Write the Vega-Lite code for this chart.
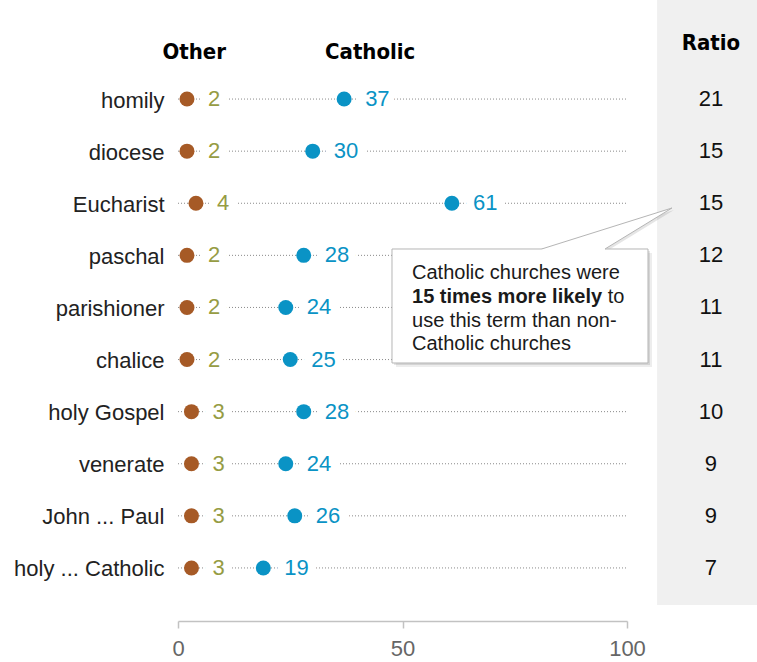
{
  "$schema": "https://vega.github.io/schema/vega-lite/v6.json",
  "width": 449,
  "height": 521,
  "autosize": "none",
  "padding": {"left": 178, "top": 73, "right": 130, "bottom": 68},
  "background": "white",
  "config": {"view": {"stroke": null}, "font": "Liberation Sans"},
  "datasets": {
    "terms": [
      {"term": "homily", "other": 2, "catholic": 37, "ratio": 21},
      {"term": "diocese", "other": 2, "catholic": 30, "ratio": 15},
      {"term": "Eucharist", "other": 4, "catholic": 61, "ratio": 15},
      {"term": "paschal", "other": 2, "catholic": 28, "ratio": 12},
      {"term": "parishioner", "other": 2, "catholic": 24, "ratio": 11},
      {"term": "chalice", "other": 2, "catholic": 25, "ratio": 11},
      {"term": "holy Gospel", "other": 3, "catholic": 28, "ratio": 10},
      {"term": "venerate", "other": 3, "catholic": 24, "ratio": 9},
      {"term": "John ... Paul", "other": 3, "catholic": 26, "ratio": 9},
      {"term": "holy ... Catholic", "other": 3, "catholic": 19, "ratio": 7}
    ],
    "one": [{}]
  },
  "resolve": {"scale": {"y": "independent"}},
  "layer": [
    {
      "data": {"name": "one"},
      "layer": [
        {
          "mark": {"type": "rect", "fill": "#f0f0f0"},
          "encoding": {
            "x": {"datum": 106.7, "type": "quantitative"},
            "x2": {"datum": 130},
            "y": {"datum": -0.91, "type": "quantitative", "scale": {"domain": [0.5, 10.5], "reverse": true, "nice": false, "zero": false}, "axis": null},
            "y2": {"datum": 10.71}
          }
        },
        {
          "mark": {"type": "text", "font": "Liberation Sans Narrow, DejaVu Sans Condensed, sans-serif", "fontWeight": "bold", "fontSize": 22, "align": "center", "baseline": "middle", "fill": "#000"},
          "encoding": {
            "x": {"datum": 3.6, "type": "quantitative"},
            "y": {"datum": 0.1, "type": "quantitative"},
            "text": {"value": "Other"}
          }
        },
        {
          "mark": {"type": "text", "font": "Liberation Sans Narrow, DejaVu Sans Condensed, sans-serif", "fontWeight": "bold", "fontSize": 22, "align": "center", "baseline": "middle", "fill": "#000"},
          "encoding": {
            "x": {"datum": 42.8, "type": "quantitative"},
            "y": {"datum": 0.1, "type": "quantitative"},
            "text": {"value": "Catholic"}
          }
        },
        {
          "mark": {"type": "text", "font": "Liberation Sans Narrow, DejaVu Sans Condensed, sans-serif", "fontWeight": "bold", "fontSize": 22, "align": "center", "baseline": "middle", "fill": "#000"},
          "encoding": {
            "x": {"datum": 118.7, "type": "quantitative"},
            "y": {"datum": -0.08, "type": "quantitative"},
            "text": {"value": "Ratio"}
          }
        }
      ]
    },
    {
      "data": {"name": "terms"},
      "layer": [
        {
          "mark": {"type": "rule", "stroke": "#8a8a8a", "strokeWidth": 1, "strokeDash": [1, 2]},
          "encoding": {
            "x": {"datum": 0, "type": "quantitative"},
            "x2": {"datum": 100},
            "y": {"field": "term", "type": "nominal", "sort": null, "scale": {"type": "point", "padding": 0.5},
              "axis": {"orient": "left", "title": null, "domain": false, "ticks": false, "labelFontSize": 22, "labelColor": "#222", "labelPadding": 14, "labelOffset": 1, "labelFont": "Liberation Sans"}}
          }
        },
        {
          "mark": {"type": "circle", "fill": "#A65A26", "size": 225, "opacity": 1},
          "encoding": {
            "x": {"field": "other", "type": "quantitative", "scale": {"domain": [0, 100], "nice": false, "zero": true},
              "axis": {"values": [0, 50, 100], "title": null, "grid": false, "domainColor": "#c2c2c2", "domainWidth": 1.5, "tickColor": "#c2c2c2", "tickWidth": 1.5, "tickSize": 7, "labelFontSize": 22, "labelColor": "#666", "labelPadding": 10, "offset": 27, "labelFlush": false, "labelFont": "Liberation Sans"}},
            "y": {"field": "term", "type": "nominal", "sort": null}
          }
        },
        {
          "mark": {"type": "circle", "fill": "#0A93C5", "size": 225, "opacity": 1},
          "encoding": {
            "x": {"field": "catholic", "type": "quantitative"},
            "y": {"field": "term", "type": "nominal", "sort": null}
          }
        },
        {
          "mark": {"type": "text", "align": "left", "baseline": "middle", "dx": 21, "fontSize": 22, "fill": "white", "stroke": "white", "strokeWidth": 16},
          "encoding": {
            "x": {"field": "other", "type": "quantitative"},
            "y": {"field": "term", "type": "nominal", "sort": null},
            "text": {"field": "other"}
          }
        },
        {
          "mark": {"type": "text", "align": "left", "baseline": "middle", "dx": 21, "fontSize": 22, "fill": "#969C43"},
          "encoding": {
            "x": {"field": "other", "type": "quantitative"},
            "y": {"field": "term", "type": "nominal", "sort": null},
            "text": {"field": "other"}
          }
        },
        {
          "mark": {"type": "text", "align": "left", "baseline": "middle", "dx": 21, "fontSize": 22, "fill": "white", "stroke": "white", "strokeWidth": 16},
          "encoding": {
            "x": {"field": "catholic", "type": "quantitative"},
            "y": {"field": "term", "type": "nominal", "sort": null},
            "text": {"field": "catholic"}
          }
        },
        {
          "mark": {"type": "text", "align": "left", "baseline": "middle", "dx": 21, "fontSize": 22, "fill": "#0A93C5"},
          "encoding": {
            "x": {"field": "catholic", "type": "quantitative"},
            "y": {"field": "term", "type": "nominal", "sort": null},
            "text": {"field": "catholic"}
          }
        },
        {
          "mark": {"type": "text", "align": "center", "baseline": "middle", "fontSize": 22, "fill": "#111"},
          "encoding": {
            "x": {"datum": 118.7, "type": "quantitative"},
            "y": {"field": "term", "type": "nominal", "sort": null},
            "text": {"field": "ratio"}
          }
        }
      ]
    },
    {
      "data": {"name": "one"},
      "layer": [
        {
          "mark": {"type": "rect", "fill": "#000", "opacity": 0.07, "xOffset": 4, "x2Offset": 4, "yOffset": 4, "y2Offset": 4},
          "encoding": {
            "x": {"datum": 47.66, "type": "quantitative"},
            "x2": {"datum": 104.68},
            "y": {"datum": 3.878, "type": "quantitative", "scale": {"domain": [0.5, 10.5], "reverse": true, "nice": false, "zero": false}, "axis": null},
            "y2": {"datum": 6.066}
          }
        },
        {
          "mark": {"type": "rect", "fill": "#000", "opacity": 0.1, "xOffset": 2, "x2Offset": 2, "yOffset": 2, "y2Offset": 2},
          "encoding": {
            "x": {"datum": 47.66, "type": "quantitative"},
            "x2": {"datum": 104.68},
            "y": {"datum": 3.878, "type": "quantitative"},
            "y2": {"datum": 6.066}
          }
        },
        {
          "mark": {"type": "point", "shape": "M -0.9307 0.2929 L 0 0 L -0.4786 0.2929 Z", "filled": true, "fill": "#000", "opacity": 0.1, "strokeWidth": 0, "size": 78400, "xOffset": 2, "yOffset": 2},
          "encoding": {
            "x": {"datum": 110.02, "type": "quantitative"},
            "y": {"datum": 3.091, "type": "quantitative"}
          }
        },
        {
          "mark": {"type": "rect", "fill": "white", "stroke": "#b5b5b5", "strokeWidth": 1},
          "encoding": {
            "x": {"datum": 47.66, "type": "quantitative"},
            "x2": {"datum": 104.68},
            "y": {"datum": 3.878, "type": "quantitative"},
            "y2": {"datum": 6.066}
          }
        },
        {
          "mark": {"type": "point", "shape": "M -0.9307 0.2929 L 0 0 L -0.4786 0.2929 L -0.4786 0.31 L -0.9307 0.31 Z", "filled": true, "fill": "white", "opacity": 1, "strokeWidth": 0, "size": 78400},
          "encoding": {
            "x": {"datum": 110.02, "type": "quantitative"},
            "y": {"datum": 3.091, "type": "quantitative"}
          }
        },
        {
          "mark": {"type": "point", "shape": "M -0.9307 0.2929 L 0 0 L -0.4786 0.2929", "filled": false, "fill": "transparent", "stroke": "#b5b5b5", "strokeWidth": 1, "opacity": 1, "size": 78400},
          "encoding": {
            "x": {"datum": 110.02, "type": "quantitative"},
            "y": {"datum": 3.091, "type": "quantitative"}
          }
        },
        {
          "mark": {"type": "text", "align": "left", "baseline": "alphabetic", "fontSize": 20, "fill": "#1a1a1a"},
          "encoding": {
            "x": {"datum": 52.12, "type": "quantitative"},
            "y": {"datum": 4.46, "type": "quantitative"},
            "text": {"value": "Catholic churches were"}
          }
        },
        {
          "mark": {"type": "text", "align": "left", "baseline": "alphabetic", "fontSize": 20, "fontWeight": "bold", "fill": "#1a1a1a"},
          "encoding": {
            "x": {"datum": 52.12, "type": "quantitative"},
            "y": {"datum": 4.909, "type": "quantitative"},
            "text": {"value": "15 times more likely"}
          }
        },
        {
          "mark": {"type": "text", "align": "left", "baseline": "alphabetic", "fontSize": 20, "fill": "#1a1a1a"},
          "encoding": {
            "x": {"datum": 95.7, "type": "quantitative"},
            "y": {"datum": 4.909, "type": "quantitative"},
            "text": {"value": "to"}
          }
        },
        {
          "mark": {"type": "text", "align": "left", "baseline": "alphabetic", "fontSize": 20, "lineHeight": 23.6, "fill": "#1a1a1a"},
          "encoding": {
            "x": {"datum": 52.12, "type": "quantitative"},
            "y": {"datum": 5.366, "type": "quantitative"},
            "text": {"value": ["use this term than non-", "Catholic churches"]}
          }
        }
      ]
    }
  ]
}
